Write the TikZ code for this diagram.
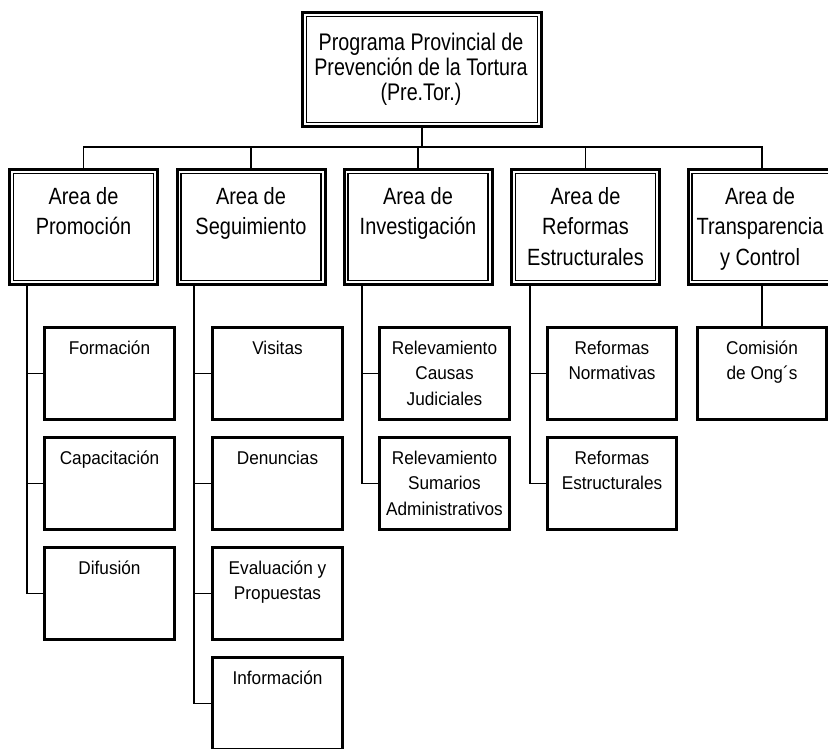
\documentclass[tikz,border=0pt]{standalone}
\usepackage{fontspec}
\setmainfont{Liberation Sans}
\newfontfamily\topfont[FakeStretch=0.82]{Liberation Sans}
\newfontfamily\areafont[FakeStretch=0.85]{Liberation Sans}
\newfontfamily\subfont[FakeStretch=0.93]{Liberation Sans}
\newcommand\toptxt[1]{\parbox[t]{240pt}{\centering\fontsize{24}{25}\topfont\baselineskip=25pt #1}}
\newcommand\areatxt[1]{\parbox[t]{170pt}{\centering\fontsize{23.5}{30.5}\areafont\baselineskip=30.5pt #1}}
\newcommand\subtxt[1]{\parbox[t]{140pt}{\centering\fontsize{18.5}{25.5}\subfont\baselineskip=25.5pt #1}}
\begin{document}
\begin{tikzpicture}[x=1pt,y=-1pt,
  bigbox/.style={draw, line width=3pt, inner sep=0pt},
  areabox/.style={bigbox, minimum width=148pt, minimum height=115pt},
  areainner/.style={draw, line width=1.2pt, inner sep=0pt, minimum width=140pt, minimum height=107pt},
  subbox/.style={draw, line width=3pt, inner sep=0pt, minimum width=129.5pt, minimum height=92pt},
  conn/.style={line width=1.2pt},
  lbl/.style={anchor=base, inner sep=0pt}]
\useasboundingbox (0,0) rectangle (828,748);
% top box
\node[bigbox, minimum width=239pt, minimum height=114pt] (top) at (422,69.5) {};
\node[draw, line width=1.2pt, inner sep=0pt, minimum width=231pt, minimum height=106pt] (topin) at (422,69.5) {};
\node[lbl] (toptext) at (421,50) {\toptxt{Programa Provincial de\\Prevención de la Tortura\\(Pre.Tor.)}};
% area boxes
\node[areabox] (a1) at (83.5,227) {};
\node[areabox] (a2) at (251,227) {};
\node[areabox] (a3) at (418,227) {};
\node[areabox] (a4) at (585.5,227) {};
\node[areabox] (a5) at (762,227) {};
\node[areainner] (a1in) at (83.5,227) {};
\node[areainner] (a2in) at (251,227) {};
\node[areainner] (a3in) at (418,227) {};
\node[areainner] (a4in) at (585.5,227) {};
\node[areainner] (a5in) at (762,227) {};
\node[lbl] (t1) at (83.5,204) {\areatxt{Area de\\Promoción}};
\node[lbl] (t2) at (251,204) {\areatxt{Area de\\Seguimiento}};
\node[lbl] (t3) at (418,204) {\areatxt{Area de\\Investigación}};
\node[lbl] (t4) at (585.5,204) {\areatxt{Area de\\Reformas\\Estructurales}};
\node[lbl] (t5) at (760,204) {\areatxt{Area de\\Transparencia\\y Control}};
% bus
\coordinate (busy) at (0,147);
\draw[conn] (top.south) -- (top.south |- busy);
\draw[conn] (a1.north) |- (a5.north |- busy) -- (a5.north);
\foreach \n in {a2,a3,a4}{\draw[conn] (\n.north) -- (\n.north |- busy);}
% sub boxes column 1
\node[subbox] (s11) at (109.5,373.5) {};
\node[subbox] (s12) at (109.5,483.5) {};
\node[subbox] (s13) at (109.5,593.5) {};
\node[lbl] at (109.5,354) {\subtxt{Formación}};
\node[lbl] at (109.5,464) {\subtxt{Capacitación}};
\node[lbl] at (109.5,574) {\subtxt{Difusión}};
% column 2
\node[subbox] (s21) at (277.5,373.5) {};
\node[subbox] (s22) at (277.5,483.5) {};
\node[subbox] (s23) at (277.5,593.5) {};
\node[subbox] (s24) at (277.5,703.5) {};
\node[lbl] at (277.5,354) {\subtxt{Visitas}};
\node[lbl] at (277.5,464) {\subtxt{Denuncias}};
\node[lbl] at (277.5,574) {\subtxt{Evaluación y\\Propuestas}};
\node[lbl] at (277.5,684) {\subtxt{Información}};
% column 3
\node[subbox] (s31) at (444.5,373.5) {};
\node[subbox] (s32) at (444.5,483.5) {};
\node[lbl] at (444.5,354) {\subtxt{Relevamiento\\Causas\\Judiciales}};
\node[lbl] at (444.5,464) {\subtxt{Relevamiento\\Sumarios\\Administrativos}};
% column 4
\node[subbox] (s41) at (612,373.5) {};
\node[subbox] (s42) at (612,483.5) {};
\node[lbl] at (612,354) {\subtxt{Reformas\\Normativas}};
\node[lbl] at (612,464) {\subtxt{Reformas\\Estructurales}};
% column 5
\node[subbox] (s51) at (762,373.5) {};
\node[lbl] at (762,354) {\subtxt{Comisión\\de Ong´s}};
% spines
\coordinate (sp1) at (27,0);
\coordinate (sp2) at (194,0);
\coordinate (sp3) at (362,0);
\coordinate (sp4) at (530,0);
\draw[conn] (a1.south -| sp1) |- (s13.west);
\draw[conn] (s11.west -| sp1) -- (s11.west);
\draw[conn] (s12.west -| sp1) -- (s12.west);
\draw[conn] (a2.south -| sp2) |- (s24.west);
\draw[conn] (s21.west -| sp2) -- (s21.west);
\draw[conn] (s22.west -| sp2) -- (s22.west);
\draw[conn] (s23.west -| sp2) -- (s23.west);
\draw[conn] (a3.south -| sp3) |- (s32.west);
\draw[conn] (s31.west -| sp3) -- (s31.west);
\draw[conn] (a4.south -| sp4) |- (s42.west);
\draw[conn] (s41.west -| sp4) -- (s41.west);
\draw[conn] (a5.south) -- (s51.north);
\end{tikzpicture}
\end{document}
